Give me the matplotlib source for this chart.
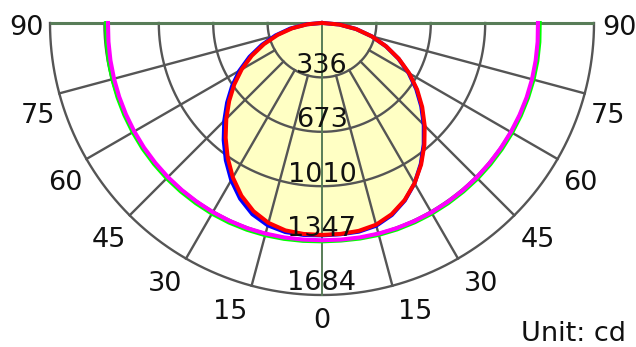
import numpy as np
import matplotlib
matplotlib.use('Agg')
from matplotlib import pyplot as plt

# polar intensity data (cd), one value every 5 deg from nadir (0) to 90
angles = [0, 5, 10, 15, 20, 25, 30, 35, 40, 45, 50, 55, 60, 65, 70, 75, 80, 85, 90]
red_right = [1312, 1311, 1307, 1293, 1260, 1210, 1146, 1070, 986, 899,
             810, 719, 624, 525, 423, 319, 214, 108, 6]
red_left = [1312, 1311, 1304, 1281, 1240, 1180, 1104, 1018, 928, 838,
            750, 663, 574, 480, 382, 284, 187, 91, 6]
blue_right = [1312, 1313, 1312, 1299, 1265, 1213, 1146, 1066, 980, 891,
              802, 712, 619, 522, 421, 318, 214, 108, 6]
blue_left = [1315, 1317, 1314, 1297, 1260, 1200, 1124, 1038, 947, 856,
             767, 679, 590, 495, 396, 298, 200, 98, 6]
magenta_right = [1345, 1346, 1348, 1350, 1352, 1353, 1354, 1354, 1354, 1353,
                 1352, 1351, 1350, 1349, 1348, 1346, 1343, 1340, 1337]
magenta_left = [1345, 1346, 1348, 1350, 1352, 1352, 1352, 1351, 1350, 1349,
                1347, 1345, 1342, 1339, 1336, 1333, 1330, 1327, 1325]
green_right = [1350, 1352, 1355, 1358, 1360, 1361, 1362, 1362, 1362, 1362,
               1361, 1360, 1359, 1358, 1357, 1356, 1354, 1351, 1348]
green_left = [1352, 1354, 1357, 1360, 1362, 1363, 1363, 1362, 1361, 1360,
              1358, 1356, 1353, 1350, 1347, 1344, 1341, 1338, 1336]

rings = [336.8, 673.6, 1010.4, 1347.2, 1684.0]
ring_labels = ['336', '673', '1010', '1347', '1684']
spokes = [15, 30, 45, 60, 75]
angle_labels = [0, 15, 30, 45, 60, 75, 90]

rmax = rings[-1]
GRID = '#555555'
AXIS = '#587d58'
TXT = '#111111'


def both_sides(left, right):
    a = np.array(angles, dtype=float)
    th = np.radians(np.concatenate([-a[::-1], a[1:]]))
    r = np.concatenate([np.array(left, float)[::-1], np.array(right, float)[1:]])
    return th, r


W, H = 636, 347
fig = plt.figure(figsize=(W / 100, H / 100), dpi=100)
cx, cy, R = 322, 23, 272
scale = 1.15
Rax = R * scale
ax = fig.add_axes([(cx - Rax) / W, (H - cy - Rax) / H, 2 * Rax / W, 2 * Rax / H],
                  projection='polar')
ax.set_theta_zero_location('S')
ax.set_theta_direction(1)
ax.set_ylim(0, rmax * scale)
ax.grid(False)
ax.set_xticks([])
ax.set_yticks([])
ax.spines['polar'].set_visible(False)
ax.patch.set_visible(False)

# fill under the red curve
th, r = both_sides(red_left, red_right)
ax.fill(th, r, color='#ffffc4', lw=0, zorder=1)

# grid
arc = np.linspace(-np.pi / 2, np.pi / 2, 361)
for v in rings:
    ax.plot(arc, np.full_like(arc, v), color=GRID, lw=1.7, zorder=2)
for a in spokes:
    for s in (-1, 1):
        t = np.radians(s * a)
        ax.plot([t, t], [rings[0], rmax], color=GRID, lw=1.7, zorder=2)
ax.plot([-np.pi / 2, -np.pi / 2], [rmax, 0], color=AXIS, lw=2.2, zorder=2,
        solid_capstyle='butt')
ax.plot([np.pi / 2, np.pi / 2], [0, rmax], color=AXIS, lw=2.2, zorder=2,
        solid_capstyle='butt')
ax.plot([0, 0], [0, rmax], color=AXIS, lw=1.4, zorder=2)

# curves
for left, right, col, z in [(green_left, green_right, '#00ff00', 3),
                            (magenta_left, magenta_right, '#ff00ff', 4),
                            (blue_left, blue_right, '#0000ff', 5),
                            (red_left, red_right, '#ff0000', 6)]:
    th, r = both_sides(left, right)
    ax.plot(th, r, color=col, lw=2.9, zorder=z, solid_joinstyle='round')

# labels
fs = 19.5
px = 0.72  # points per pixel
for v, s in zip(rings, ring_labels):
    ax.text(0, v - 0.0535 * rmax, s, ha='center', va='center_baseline',
            fontsize=fs, color=TXT, zorder=8)
for a in angle_labels:
    for sgn in ((1,) if a == 0 else (-1, 1)):
        t = np.radians(sgn * a)
        if a == 0:
            ha, va, off = 'center', 'top', (0, -13)
        elif a == 90:
            ha = 'right' if sgn < 0 else 'left'
            va, off = 'center_baseline', (-6 if sgn < 0 else 8, -2)
        else:
            ha = 'right' if sgn < 0 else 'left'
            va = 'top'
            off = (-4 if sgn < 0 else 6, -(9 + 4 * np.cos(t)))
        ax.annotate(str(a), xy=(t, rmax), xytext=(off[0] * px, off[1] * px),
                    textcoords='offset points', ha=ha, va=va, fontsize=fs,
                    color=TXT, zorder=8, annotation_clip=False)
fig.text(626 / W, (H - 341) / H, 'Unit: cd', ha='right', va='baseline',
         fontsize=fs, color=TXT)

fig.savefig('out.png', dpi=100)
